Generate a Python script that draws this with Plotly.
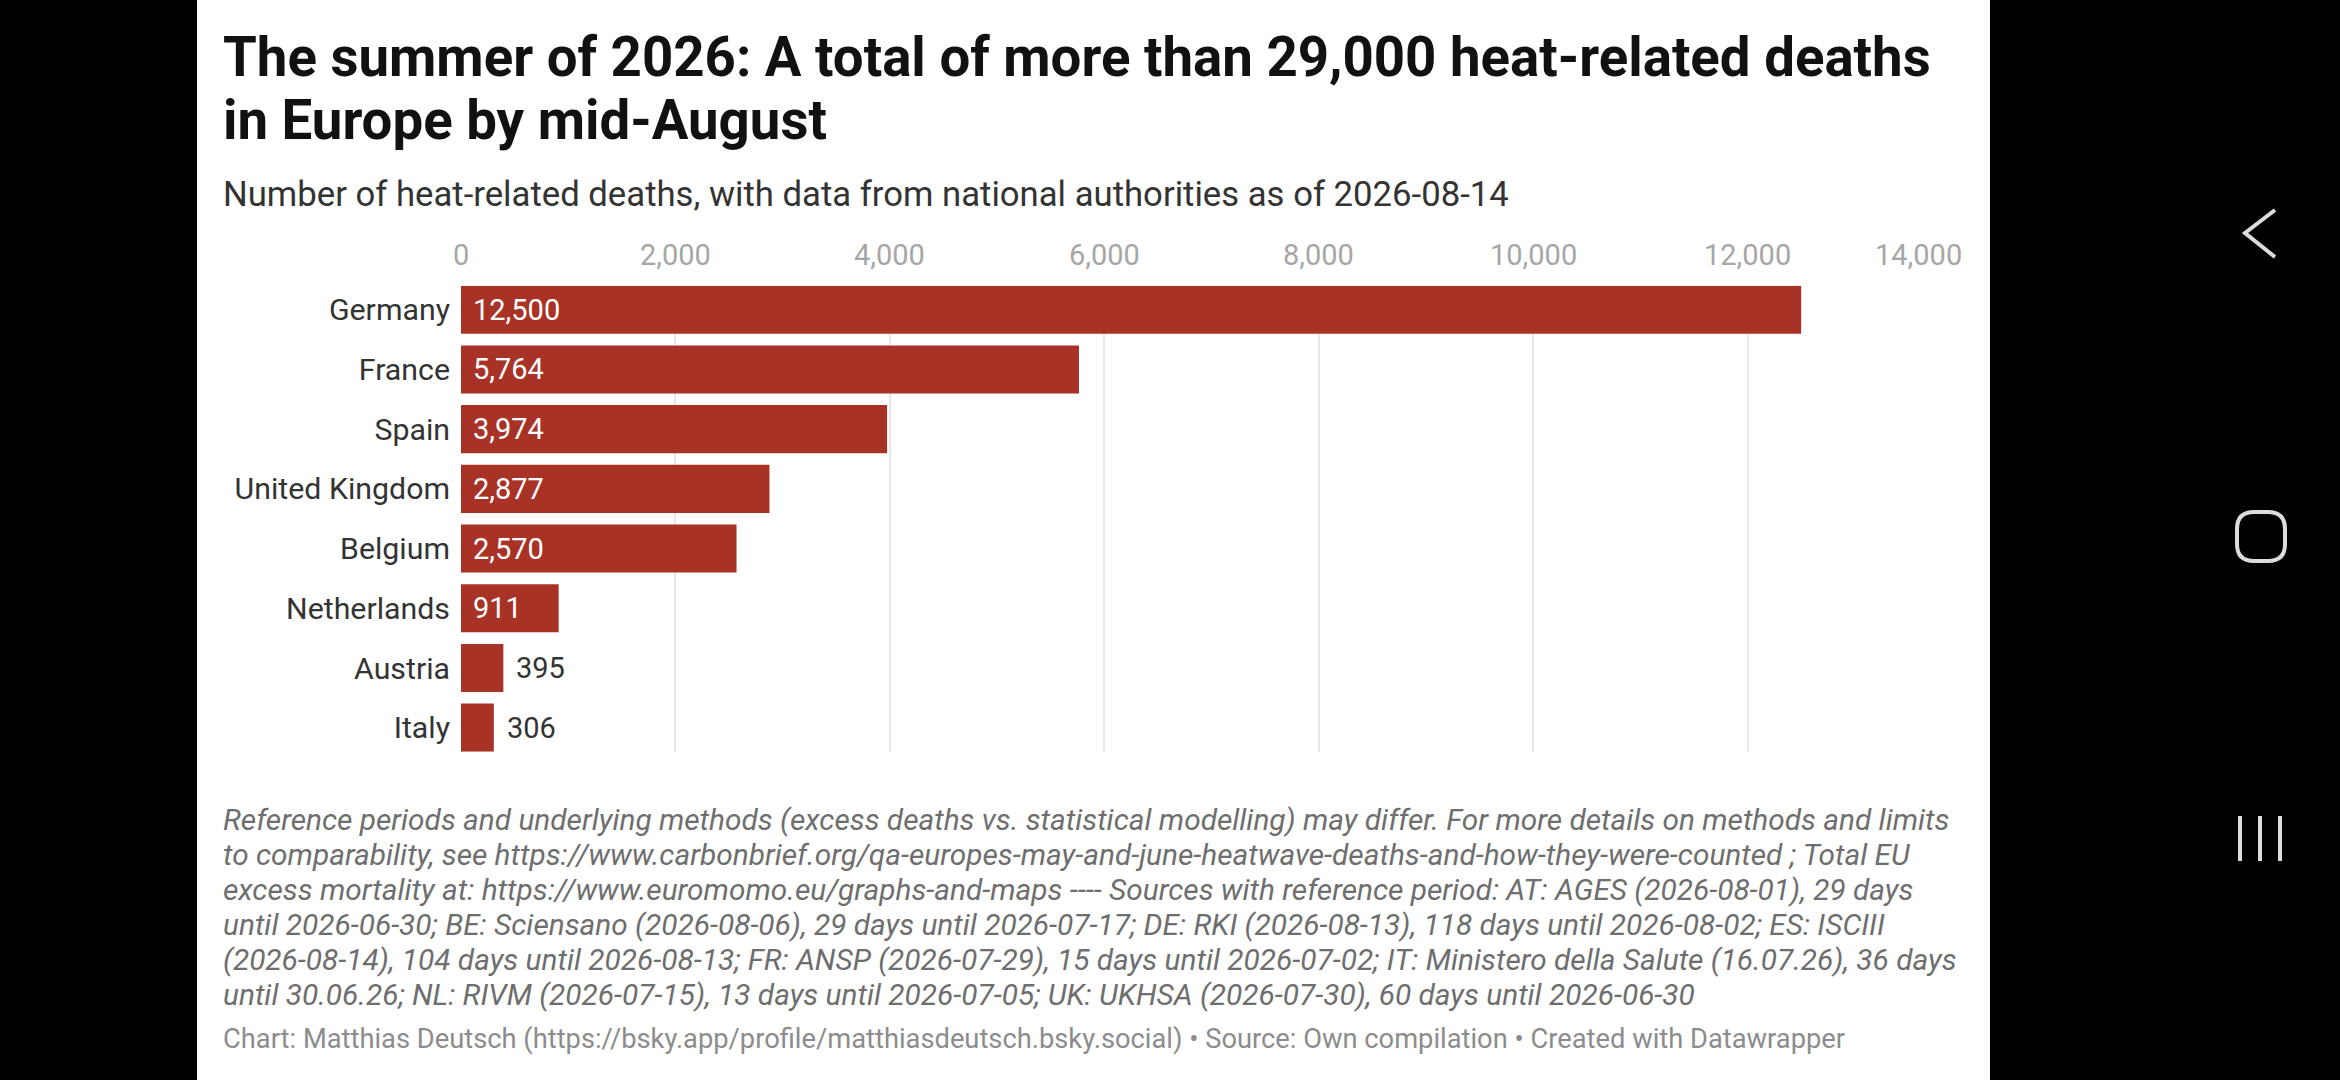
import plotly.graph_objects as go

countries = ['Germany', 'France', 'Spain', 'United Kingdom', 'Belgium',
             'Netherlands', 'Austria', 'Italy']
deaths = [12500, 5764, 3974, 2877, 2570, 911, 395, 306]
label_inside = [True, True, True, True, True, True, False, False]
x_ticks = [0, 2000, 4000, 6000, 8000, 10000, 12000, 14000]

title_lines = [
    'The summer of 2026: A total of more than 29,000 heat-related deaths',
    'in Europe by mid-August',
]
subtitle = 'Number of heat-related deaths, with data from national authorities as of 2026-08-14'
notes = [
    'Reference periods and underlying methods (excess deaths vs. statistical modelling) may differ. For more details on methods and limits',
    'to comparability, see https://www.carbonbrief.org/qa-europes-may-and-june-heatwave-deaths-and-how-they-were-counted ; Total EU',
    'excess mortality at: https://www.euromomo.eu/graphs-and-maps ---- Sources with reference period: AT: AGES (2026-08-01), 29 days',
    'until 2026-06-30; BE: Sciensano (2026-08-06), 29 days until 2026-07-17; DE: RKI (2026-08-13), 118 days until 2026-08-02; ES: ISCIII',
    '(2026-08-14), 104 days until 2026-08-13; FR: ANSP (2026-07-29), 15 days until 2026-07-02; IT: Ministero della Salute (16.07.26), 36 days',
    'until 30.06.26; NL: RIVM (2026-07-15), 13 days until 2026-07-05; UK: UKHSA (2026-07-30), 60 days until 2026-06-30',
]
credit = ('Chart: Matthias Deutsch (https://bsky.app/profile/matthiasdeutsch.bsky.social)'
          ' \u2022 Source: Own compilation \u2022 Created with Datawrapper')

# positions are worked out on a 2340x1080 canvas and stored as paper fractions
W, H = 2340, 1080
FONT = 'Roboto'
BAR = '#a93226'


def px(x):
    return x / W


def py(y):
    return 1 - y / H


fig = go.Figure()

fig.add_trace(go.Bar(
    x=deaths,
    y=countries,
    orientation='h',
    marker=dict(color=BAR, line=dict(width=0)),
    hoverinfo='x+y',
))

# value labels
for c, v, inside in zip(countries, deaths, label_inside):
    fig.add_annotation(
        x=0 if inside else v, y=c, xref='x', yref='y',
        text=f'{v:,}', showarrow=False,
        xanchor='left', yanchor='middle',
        xshift=10 if inside else 11,
        font=dict(family=FONT, size=29, color='white' if inside else '#333333'),
    )

# x tick labels on top (last one kept inside the plot, datawrapper style)
for t in x_ticks:
    last = t == x_ticks[-1]
    fig.add_annotation(
        x=t, y=py(255), xref='x', yref='paper',
        text=f'{t:,}', showarrow=False,
        xanchor='right' if last else 'center', yanchor='middle',
        xshift=2 if last else 0,
        font=dict(family=FONT, size=29, color='#a6a6a6'),
    )

# title block
for line, yc in zip(title_lines, [57, 120]):
    fig.add_annotation(
        x=px(221), y=py(yc), xref='paper', yref='paper', text=line,
        showarrow=False, xanchor='left', yanchor='middle',
        font=dict(family=FONT, size=54.6, weight=700, color='#111111'),
    )
fig.add_annotation(
    x=px(221), y=py(194), xref='paper', yref='paper', text=subtitle,
    showarrow=False, xanchor='left', yanchor='middle',
    font=dict(family=FONT, size=34.7, color='#333333'),
)

# notes and credit
for i, line in enumerate(notes):
    fig.add_annotation(
        x=px(221), y=py(819.5 + i * 35.0), xref='paper', yref='paper', text=line,
        showarrow=False, xanchor='left', yanchor='middle',
        font=dict(family=FONT, size=29.8, style='italic', color='#6e6e6e'),
    )
fig.add_annotation(
    x=px(221), y=py(1039), xref='paper', yref='paper', text=credit,
    showarrow=False, xanchor='left', yanchor='middle',
    font=dict(family=FONT, size=27.3, color='#8c8c8c'),
)

shapes = [
    # white card
    dict(type='rect', xref='paper', yref='paper', x0=px(197), x1=px(1990),
         y0=0, y1=1, fillcolor='white', line=dict(width=0), layer='below'),
    # zero baseline
    dict(type='line', xref='x', yref='y domain', xsizemode='pixel', xanchor=0,
         x0=-1.5, x1=-1.5, y0=0, y1=1, line=dict(color='#333333', width=2.5),
         layer='above'),
]

# phone navigation icons
nav = '#dcdcdc'
shapes.append(dict(
    type='path', xref='paper', yref='paper',
    path=f'M {px(2275)} {py(210)} L {px(2245)} {py(233)} L {px(2275)} {py(257)}',
    line=dict(color=nav, width=4)))
x0, x1, y0, y1, r = 2237, 2285, 512, 561, 17
rr = (f'M {px(x0 + r)} {py(y0)} L {px(x1 - r)} {py(y0)} Q {px(x1)} {py(y0)} {px(x1)} {py(y0 + r)} '
      f'L {px(x1)} {py(y1 - r)} Q {px(x1)} {py(y1)} {px(x1 - r)} {py(y1)} '
      f'L {px(x0 + r)} {py(y1)} Q {px(x0)} {py(y1)} {px(x0)} {py(y1 - r)} '
      f'L {px(x0)} {py(y0 + r)} Q {px(x0)} {py(y0)} {px(x0 + r)} {py(y0)} Z')
shapes.append(dict(type='path', xref='paper', yref='paper', path=rr,
                   line=dict(color=nav, width=4)))
for xx in [2240, 2260, 2280]:
    shapes.append(dict(type='line', xref='paper', yref='paper',
                       x0=px(xx), x1=px(xx), y0=py(816), y1=py(861),
                       line=dict(color=nav, width=4)))

fig.update_layout(
    autosize=True,
    margin=dict(l=0, r=0, t=0, b=0),
    paper_bgcolor='black',
    plot_bgcolor='white',
    showlegend=False,
    bargap=0.194,
    shapes=shapes,
    font=dict(family=FONT),
    xaxis=dict(
        domain=[px(461), px(1962)],
        range=[0, 14000],
        side='top',
        tickvals=x_ticks,
        showticklabels=False,
        ticks='',
        showgrid=True, gridcolor='#e8e8e8', gridwidth=2,
        zeroline=False, showline=False,
        fixedrange=True,
    ),
    yaxis=dict(
        domain=[py(751.7), py(285.7)],
        categoryorder='array', categoryarray=countries,
        range=[7.403, -0.403],
        ticks='', showgrid=False, zeroline=False, showline=False,
        tickfont=dict(family=FONT, size=30.3, color='#333333'),
        ticklabelstandoff=10,
        automargin=False,
        fixedrange=True,
    ),
)

# fill the whole window: no body margin, figure sized to the viewport
post = ("document.documentElement.style.margin='0';"
        "document.body.style.margin='0';"
        "document.body.style.overflow='hidden';"
        "document.body.style.background='black';"
        "var gd=document.getElementById('{plot_id}');"
        "Plotly.Plots.resize(gd);")
fig.write_html('out.html', config={'displayModeBar': False},
               default_width='100vw', default_height='100vh',
               post_script=post)
